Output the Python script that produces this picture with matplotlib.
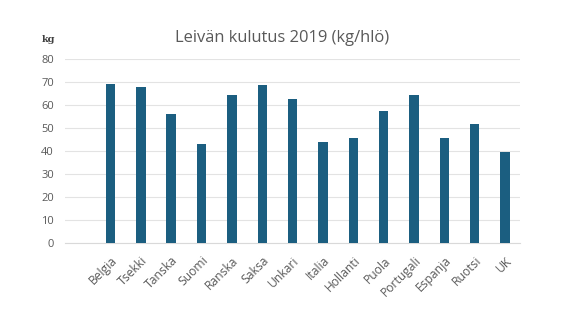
import matplotlib
matplotlib.use('Agg')
import matplotlib.pyplot as plt
import numpy as np

# data
countries = ['Belgia', 'Tsekki', 'Tanska', 'Suomi', 'Ranska', 'Saksa', 'Unkari',
             'Italia', 'Hollanti', 'Puola', 'Portugali', 'Espanja', 'Ruotsi', 'UK']
consumption = [69.1, 67.7, 56.1, 43.0, 64.3, 68.8, 62.6,
               43.9, 45.5, 57.5, 64.5, 45.5, 51.9, 39.4]
y_ticks = [0, 10, 20, 30, 40, 50, 60, 70, 80]

BAR_COLOR = '#1b5e80'
TEXT_COLOR = '#595959'

plt.rcParams['font.family'] = ['Open Sans', 'DejaVu Sans']

fig = plt.figure(figsize=(5.8, 3.26), dpi=100)
ax = fig.add_axes([0.112, 0.2546, 0.785, 0.5644])

xs = np.arange(len(countries))
ax.bar(xs, consumption, width=0.31, color=BAR_COLOR, zorder=3)

ax.set_xlim(-1.5, len(countries) - 0.5)
ax.set_ylim(0, 80)
ax.set_yticks(y_ticks)
ax.set_xticks(xs)
ax.set_xticklabels(countries, rotation=45, ha='right', rotation_mode='anchor')

ax.grid(axis='y', color='#e3e3e3', linewidth=0.8, zorder=0)
for side in ['top', 'right', 'left']:
    ax.spines[side].set_visible(False)
ax.spines['bottom'].set_color('#d9d9d9')
ax.spines['bottom'].set_linewidth(0.8)

ax.tick_params(axis='both', length=0, labelcolor=TEXT_COLOR)
ax.tick_params(axis='y', pad=8, labelsize=8)
ax.tick_params(axis='x', pad=8, labelsize=8.7)

fig.text(0.486, 0.884, 'Leivän kulutus 2019 (kg/hlö)', ha='center', va='center',
         fontsize=11.9, color=TEXT_COLOR)
fig.text(0.072, 0.88, 'kg', ha='left', va='center', fontsize=7,
         fontweight='bold', color='#404040', family=['DejaVu Serif'])

fig.savefig('out.png', dpi=100)
